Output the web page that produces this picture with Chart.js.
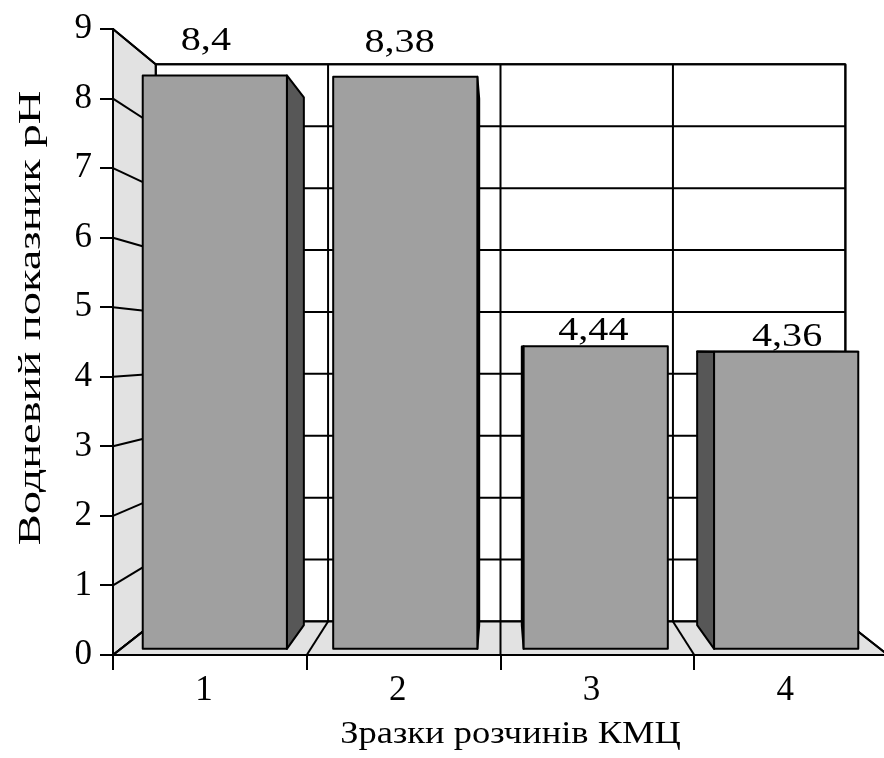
<!DOCTYPE html>
<html>
<head>
<meta charset="utf-8">
<script src="https://cdn.jsdelivr.net/npm/chart.js@4.4.0/dist/chart.umd.min.js"></script>
<style>
  html, body { margin: 0; padding: 0; background: #fff; overflow: hidden; }
  #wrap { width: 890px; height: 758px; }
</style>
</head>
<body>
<div id="wrap"><canvas id="diagram"></canvas></div>
<script>
// data
const samples = ["1", "2", "3", "4"];
const phValues = [8.4, 8.38, 4.44, 4.36];
const valueLabels = ["8,4", "8,38", "4,44", "4,36"];
const xTitle = "Зразки розчинів КМЦ";
const yTitle = "Водневий показник рН";

// depth of each plane, 1 = front plane of the axes
const depth = { wall: 0.89, barFront: 0.983, barBack: 0.905, label: 1.052 };
const colors = { wall: '#e2e2e2', front: '#a0a0a0', side: '#575757', top: '#c8c8c8' };
const serif = "'Liberation Serif'";

function eyeOf(area) {
    return { x: (area.left + area.right) / 2, y: area.top + 0.513 * (area.bottom - area.top) };
}
function proj(e, x, y, s) {
    return [e.x + s * (x - e.x), e.y + s * (y - e.y)];
}
function poly(ctx, pts, fill) {
    ctx.beginPath();
    pts.forEach((q, i) => i ? ctx.lineTo(q[0], q[1]) : ctx.moveTo(q[0], q[1]));
    ctx.closePath();
    if (fill) {
        ctx.fillStyle = fill;
        ctx.fill();
    }
    ctx.stroke();
}
function line(ctx, a, b) {
    ctx.beginPath();
    ctx.moveTo(a[0], a[1]);
    ctx.lineTo(b[0], b[1]);
    ctx.stroke();
}
function stretchedText(ctx, text, x, y, sx, angle) {
    ctx.save();
    ctx.translate(x, y);
    ctx.rotate(angle || 0);
    ctx.scale(sx, 1);
    ctx.fillText(text, 0, 0);
    ctx.restore();
}

const perspective = {
    id: 'perspective',
    beforeDraw(chart) {
        const ctx = chart.ctx;
        const a = chart.chartArea;
        const e = eyeOf(a);
        const xs = chart.scales.x, ys = chart.scales.y;
        const step = xs.getPixelForValue(1) - xs.getPixelForValue(0);
        const bounds = samples.map((s, i) => xs.getPixelForValue(i) - step / 2);
        bounds.push(a.right);
        const w = depth.wall;

        ctx.save();
        ctx.strokeStyle = '#000';
        ctx.lineWidth = 2;
        ctx.lineJoin = 'round';

        // back wall
        const bl = proj(e, a.left, a.top, w), br = proj(e, a.right, a.bottom, w);
        ctx.fillStyle = '#fff';
        ctx.fillRect(bl[0], bl[1], br[0] - bl[0], br[1] - bl[1]);
        ys.ticks.forEach(t => {
            const py = ys.getPixelForValue(t.value);
            line(ctx, proj(e, a.left, py, w), proj(e, a.right, py, w));
        });
        bounds.forEach(bx => line(ctx, proj(e, bx, a.top, w), proj(e, bx, a.bottom, w)));
        ctx.strokeRect(bl[0], bl[1], br[0] - bl[0], br[1] - bl[1]);

        // left side wall
        poly(ctx, [[a.left, a.top], [a.left, a.bottom], proj(e, a.left, a.bottom, w), proj(e, a.left, a.top, w)], colors.wall);
        ys.ticks.forEach(t => {
            const py = ys.getPixelForValue(t.value);
            line(ctx, [a.left, py], proj(e, a.left, py, w));
        });

        // floor
        poly(ctx, [[a.left, a.bottom], [a.right, a.bottom], proj(e, a.right, a.bottom, w), proj(e, a.left, a.bottom, w)], colors.wall);
        bounds.forEach(bx => line(ctx, [bx, a.bottom], proj(e, bx, a.bottom, w)));

        // axis titles
        ctx.fillStyle = '#000';
        ctx.font = '32px ' + serif;
        ctx.textAlign = 'center';
        ctx.textBaseline = 'alphabetic';
        stretchedText(ctx, xTitle, e.x + 10, a.bottom + 88, 1.14, 0);
        stretchedText(ctx, yTitle, 40, a.top + 289, 1.45, -Math.PI / 2);
        ctx.restore();
    },
    afterDatasetsDraw(chart) {
        const ctx = chart.ctx;
        const e = eyeOf(chart.chartArea);
        const sf = depth.barFront, sb = depth.barBack;
        const meta = chart.getDatasetMeta(0);

        ctx.save();
        ctx.strokeStyle = '#000';
        ctx.lineWidth = 2;
        ctx.lineJoin = 'round';
        meta.data.forEach((bar, i) => {
            const { x, y, base, width } = bar.getProps(['x', 'y', 'base', 'width'], true);
            const x0 = x - width / 2, x1 = x + width / 2;
            let sideX = null;
            if (x1 < e.x) sideX = x1;
            else if (x0 > e.x) sideX = x0;
            if (sideX !== null) {
                poly(ctx, [proj(e, sideX, y, sf), proj(e, sideX, y, sb), proj(e, sideX, base, sb), proj(e, sideX, base, sf)], colors.side);
            }
            if (y > e.y) {
                poly(ctx, [proj(e, x0, y, sf), proj(e, x1, y, sf), proj(e, x1, y, sb), proj(e, x0, y, sb)], colors.top);
            }
            poly(ctx, [proj(e, x0, y, sf), proj(e, x1, y, sf), proj(e, x1, base, sf), proj(e, x0, base, sf)], colors.front);

            // value label
            const ly = proj(e, x, y, depth.label)[1] - 6;
            ctx.fillStyle = '#000';
            ctx.font = '34px ' + serif;
            ctx.textAlign = 'center';
            ctx.textBaseline = 'alphabetic';
            stretchedText(ctx, valueLabels[i], x - 4, ly, 1.18, 0);
        });
        ctx.restore();
    }
};

new Chart(
    document.getElementById("diagram"),
    {
        type: 'bar',
        data: {
            labels: samples,
            datasets: [{
                label: 'pH',
                data: phValues,
                backgroundColor: 'rgba(0,0,0,0)',
                borderWidth: 0,
                categoryPercentage: 1,
                barPercentage: 0.757
            }]
        },
        options: {
            responsive: true,
            maintainAspectRatio: false,
            animation: false,
            layout: {
                padding: { top: 29, right: 2, left: 0, bottom: 0 }
            },
            plugins: {
                legend: { display: false },
                tooltip: { enabled: false }
            },
            scales: {
                x: {
                    grid: { offset: true, drawOnChartArea: false, tickLength: 15, color: '#000', lineWidth: 2 },
                    border: { color: '#000', width: 2 },
                    ticks: { color: '#000', padding: 0, labelOffset: -6, font: { family: serif, size: 35 } },
                    afterFit: scale => { scale.height = 103; }
                },
                y: {
                    min: 0,
                    max: 9,
                    grid: { drawOnChartArea: false, tickLength: 13, color: '#000', lineWidth: 2 },
                    border: { color: '#000', width: 2 },
                    ticks: { stepSize: 1, color: '#000', padding: 8, font: { family: serif, size: 35 } },
                    afterFit: scale => { scale.width = 113; }
                }
            }
        },
        plugins: [perspective]
    }
);
</script>
</body>
</html>
